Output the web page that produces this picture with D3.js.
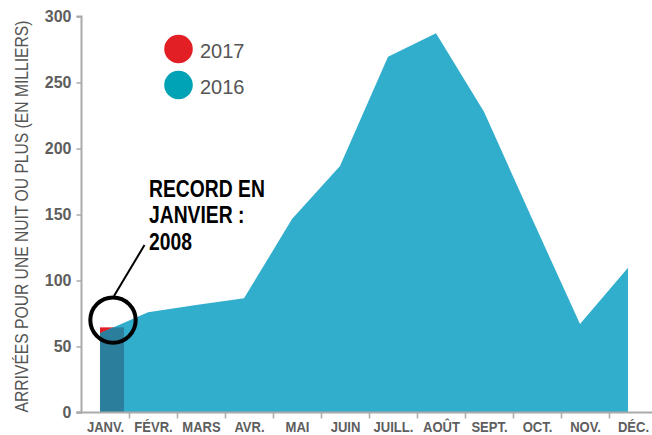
<!DOCTYPE html>
<html>
<head>
<meta charset="utf-8">
<script src="https://cdn.jsdelivr.net/npm/d3@7"></script>
<style>
  body { margin: 0; background: #fff; }
  svg { display: block; }
  text { font-family: "Liberation Sans", Arial, sans-serif; }
</style>
</head>
<body>
<script>
//data
var months = ["JANV.", "FÉVR.", "MARS", "AVR.", "MAI", "JUIN", "JUILL.", "AOÛT", "SEPT.", "OCT.", "NOV.", "DÉC."];
var arrivals2016 = [60, 76, 81.5, 86.5, 146.5, 186.7, 269.5, 287.3, 227.8, 147, 67, 109.7]; //en milliers
var arrivals2017 = [64.5]; //janvier seulement
var yTicks = [0, 50, 100, 150, 200, 250, 300];
var legendYears = ["2017", "2016"];
var noteLines = ["RECORD EN", "JANVIER :", "2008"];

var width = 652, height = 435;
var red = "#e31f26", teal = "#32aecd", tealLegend = "#00a2b5", darkBar = "#2b7f9c";
var narrow = 0.84; //horizontal squeeze to fake a condensed face

var svg = d3.select("body").append("svg")
  .attr("width", width)
  .attr("height", height);

//scales
var y = d3.scaleLinear().domain([0, 300]).range([412.5, 16.5]);
var xBand = d3.scaleBand().domain(months).range([81.5, 657.5]);
var x = d3.scalePoint().domain(months).range([100, 628]);

//2017 bar (red part shows above the area)
var jan17 = [{m: months[0], v: arrivals2017[0]}];
svg.selectAll(".bar17")
  .data(jan17)
  .enter().append("rect")
  .attr("class", "bar17")
  .attr("x", function(d){ return x(d.m); })
  .attr("width", xBand.bandwidth() / 2)
  .attr("y", function(d){ return y(d.v); })
  .attr("height", function(d){ return y(0) - y(d.v); })
  .style("fill", red);

//2016 area
var series = months.map(function(m, i){ return {m: m, v: arrivals2016[i]}; });
var area = d3.area()
  .x(function(d){ return x(d.m); })
  .y0(y(0))
  .y1(function(d){ return y(d.v); });

svg.append("clipPath").attr("id", "areaClip")
  .append("path").datum(series).attr("d", area);

svg.append("path")
  .datum(series)
  .attr("d", area)
  .style("fill", teal);

//overlap of bar and area is darker
svg.selectAll(".barOver")
  .data(jan17)
  .enter().append("rect")
  .attr("class", "barOver")
  .attr("clip-path", "url(#areaClip)")
  .attr("x", function(d){ return x(d.m); })
  .attr("width", xBand.bandwidth() / 2)
  .attr("y", function(d){ return y(d.v); })
  .attr("height", function(d){ return y(0) - y(d.v); })
  .style("fill", darkBar);

//y axis
var yAxis = svg.append("g")
  .attr("transform", "translate(81.5,0)")
  .call(d3.axisLeft(y).tickValues(yTicks).tickSize(5).tickPadding(5));
yAxis.select(".domain").attr("d", "M-5," + y(0) + "H0V" + y(300) + "H-5").style("stroke", "#aaa").style("stroke-width", 2);
yAxis.selectAll(".tick line").style("stroke", "#aaa").style("stroke-width", 1.5);
yAxis.selectAll(".tick text")
  .style("font-family", "'Liberation Sans', Arial, sans-serif")
  .style("font-size", "16px")
  .style("font-weight", "bold")
  .style("fill", "#5e5e5e");

//x axis: ticks at month boundaries, labels centered
var xAxis = svg.append("g").attr("transform", "translate(0," + y(0) + ")");
xAxis.append("line")
  .attr("x1", 76.5).attr("x2", width)
  .style("stroke", "#aaa").style("stroke-width", 2);
xAxis.selectAll(".xtick")
  .data(months.slice(1))
  .enter().append("line")
  .attr("x1", function(d){ return xBand(d); })
  .attr("x2", function(d){ return xBand(d); })
  .attr("y1", 0).attr("y2", 6)
  .style("stroke", "#aaa").style("stroke-width", 1.5);
xAxis.selectAll(".xlabel")
  .data(months)
  .enter().append("text")
  .attr("transform", function(d){
    return "translate(" + (xBand(d) + xBand.bandwidth() / 2) + ",19.5) scale(0.9,1)";
  })
  .attr("text-anchor", "middle")
  .style("font-size", "14.5px")
  .style("font-weight", "bold")
  .style("fill", "#5e5e5e")
  .text(function(d){ return d; });

//y axis title
svg.append("text")
  .attr("transform", "translate(28," + ((y(0) + y(300)) / 2 + 2) + ") rotate(-90) scale(0.87,1)")
  .attr("text-anchor", "middle")
  .style("font-size", "18px")
  .style("fill", "#555")
  .text("ARRIVÉES POUR UNE NUIT OU PLUS (EN MILLIERS)");

//legend
var legend = svg.selectAll(".legend")
  .data(legendYears)
  .enter().append("g")
  .attr("class", "legend")
  .attr("transform", function(d, i){ return "translate(178.5," + (49 + i * 36) + ")"; });
legend.append("circle")
  .attr("r", 14.3)
  .style("fill", function(d, i){ return i === 0 ? red : tealLegend; });
legend.append("text")
  .attr("x", 21.5)
  .attr("y", 9.3)
  .style("font-size", "20px")
  .style("fill", "#555")
  .text(function(d){ return d; });

//annotation
var cx = x(months[0]) + xBand.bandwidth() / 4 + 1;
var cy = y(70);
svg.append("circle")
  .attr("cx", cx).attr("cy", cy).attr("r", 22.7)
  .style("fill", "none").style("stroke", "#000").style("stroke-width", 4);
svg.append("line")
  .attr("x1", cx + 1).attr("y1", cy - 24)
  .attr("x2", 144.5).attr("y2", 245)
  .style("stroke", "#000").style("stroke-width", 2);
svg.selectAll(".note")
  .data(noteLines)
  .enter().append("text")
  .attr("class", "note")
  .attr("transform", function(d, i){
    return "translate(149," + (196.7 + i * 26.7) + ") scale(" + narrow + ",1)";
  })
  .style("font-size", "23px")
  .style("font-weight", "bold")
  .style("fill", "#000")
  .text(function(d){ return d; });
</script>
</body>
</html>
